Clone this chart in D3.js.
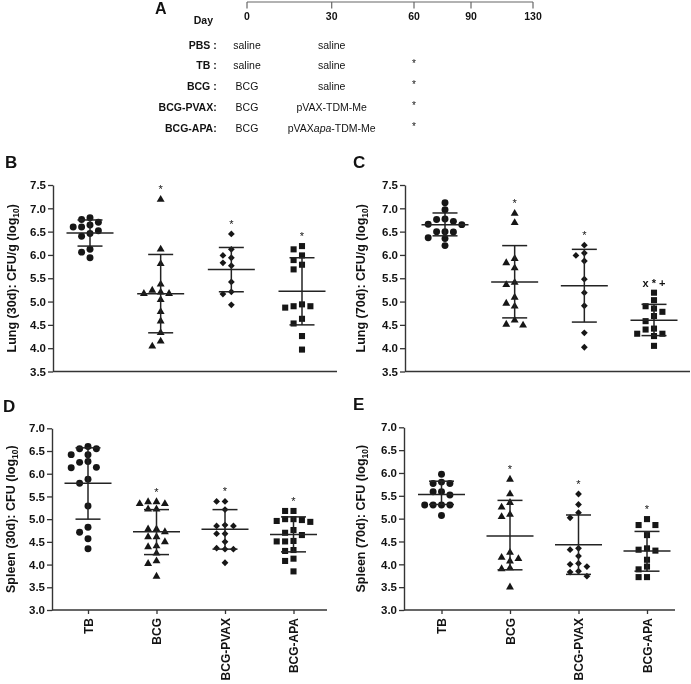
<!DOCTYPE html>
<html><head><meta charset="utf-8">
<script src="https://cdn.jsdelivr.net/npm/d3@7"></script>
<style>
body{margin:0;background:#fff}
svg{display:block}
text{font-family:Arial,"Liberation Sans",sans-serif;fill:#111}
.gray{opacity:0.995}
</style>
</head><body>
<svg id="c" width="691" height="684"></svg>
<script>
// ---------- DATA ----------
const groups = ["TB", "BCG", "BCG-PVAX", "BCG-APA"];

// Panel A (schedule)
const days = [0, 30, 60, 90, 130];
const schedGroups = ["PBS :", "TB :", "BCG :", "BCG-PVAX:", "BCG-APA:"];
const schedPrime = ["saline", "saline", "BCG", "BCG", "BCG"];
const schedBoost = ["saline", "saline", "saline", "pVAX-TDM-Me", "pVAXapa-TDM-Me"];
const schedChallenge = ["", "*", "*", "*", "*"];

// Panel B: Lung 30d
const lung30TB   = [6.70, 6.80, 6.76, 6.60, 6.60, 6.64, 6.52, 6.40, 6.46, 6.12, 6.06, 5.94];
const lung30BCG  = [7.19, 6.12, 5.81, 5.37, 5.17, 5.24, 5.17, 5.20, 5.04, 4.78, 4.58, 4.33, 4.04, 4.15];
const lung30PVAX = [6.45, 6.12, 5.99, 5.94, 5.83, 5.77, 5.42, 5.21, 5.16, 4.93];
const lung30APA  = [6.19, 6.12, 5.99, 5.89, 5.79, 5.69, 4.94, 4.90, 4.87, 4.90, 4.63, 4.53, 4.26, 3.97];
const lung30Mean  = [6.47, 5.17, 5.69, 5.22];
const lung30Upper = [6.75, 6.01, 6.16, 5.94];
const lung30Lower = [6.19, 4.33, 5.21, 4.50];
const lung30Marks = ["", "*", "*", "*"];

// Panel C: Lung 70d
const lung70TB   = [7.12, 6.97, 6.77, 6.76, 6.72, 6.65, 6.66, 6.50, 6.49, 6.50, 6.37, 6.35, 6.20];
const lung70BCG  = [6.89, 6.69, 5.92, 5.83, 5.72, 5.41, 5.36, 5.09, 4.96, 4.90, 4.60, 4.51, 4.49];
const lung70PVAX = [6.21, 6.04, 5.99, 5.87, 5.48, 5.19, 4.91, 4.33, 4.02];
const lung70APA  = [5.19, 5.03, 4.90, 4.85, 4.78, 4.69, 4.58, 4.42, 4.40, 4.31, 4.31, 4.26, 4.05];
const lung70Mean  = [6.65, 5.42, 5.34, 4.60];
const lung70Upper = [6.90, 6.20, 6.12, 4.94];
const lung70Lower = [6.41, 4.65, 4.56, 4.27];
const lung70Marks = ["", "*", "*", "x * +"];

// Panel D: Spleen 30d
const spleen30TB   = [6.60, 6.55, 6.55, 6.42, 6.42, 6.27, 6.25, 6.14, 6.13, 5.88, 5.79, 5.29, 4.82, 4.71, 4.57, 4.35];
const spleen30BCG  = [5.38, 5.34, 5.34, 5.38, 5.22, 5.22, 4.78, 4.78, 4.72, 4.61, 4.61, 4.50, 4.39, 4.41, 4.25, 4.08, 4.02, 3.74];
const spleen30PVAX = [5.39, 5.39, 5.21, 4.87, 4.85, 4.85, 4.68, 4.68, 4.50, 4.36, 4.34, 4.34, 4.04];
const spleen30APA  = [5.18, 5.18, 5.00, 5.00, 4.94, 4.96, 4.98, 4.76, 4.70, 4.65, 4.51, 4.51, 4.52, 4.32, 4.30, 4.13, 4.08, 3.85];
const spleen30Mean  = [5.79, 4.72, 4.78, 4.66];
const spleen30Upper = [6.57, 5.21, 5.21, 5.05];
const spleen30Lower = [5.00, 4.22, 4.34, 4.28];
const spleen30Marks = ["", "*", "*", "*"];

// Panel E: Spleen 70d
const spleen70TB   = [5.97, 5.80, 5.77, 5.77, 5.59, 5.59, 5.52, 5.30, 5.30, 5.30, 5.30, 5.07];
const spleen70BCG  = [5.86, 5.54, 5.35, 5.25, 5.09, 5.04, 4.26, 4.15, 4.12, 4.07, 3.92, 3.90, 3.50];
const spleen70PVAX = [5.54, 5.31, 5.13, 5.02, 4.35, 4.32, 4.18, 4.02, 4.00, 3.95, 3.85, 3.83, 3.74];
const spleen70APA  = [4.99, 4.86, 4.86, 4.64, 4.35, 4.32, 4.30, 4.10, 3.95, 3.89, 3.72, 3.72];
const spleen70Mean  = [5.53, 4.62, 4.43, 4.29];
const spleen70Upper = [5.82, 5.40, 5.08, 4.72];
const spleen70Lower = [5.31, 3.88, 3.78, 3.85];
const spleen70Marks = ["", "*", "*", "*"];

// ---------- DRAW ----------
const svg = d3.select("#c");
const root = svg.append("g").attr("class", "gray");
const INK = "#151515";
const AX = "#333";

// ----- Panel A -----
root.append("text").attr("x", 155).attr("y", 14).attr("font-size", 16).attr("font-weight", "bold").text("A");
const tx = d3.scaleLinear().domain(days).range([247, 331.7, 414, 471, 533]);
const tl = root.append("g");
tl.append("line").attr("x1", tx(0)).attr("x2", tx(130)).attr("y1", 2).attr("y2", 2)
  .attr("stroke", "#666").attr("stroke-width", 1.2);
tl.selectAll(".tk").data(days).join("line")
  .attr("x1", d => tx(d)).attr("x2", d => tx(d)).attr("y1", 2).attr("y2", 8.5)
  .attr("stroke", "#666").attr("stroke-width", 1.2);
tl.selectAll(".tl").data(days).join("text")
  .attr("x", d => tx(d)).attr("y", 20).attr("text-anchor", "middle")
  .attr("font-size", 10.5).attr("font-weight", "bold").text(d => d);
root.append("text").attr("x", 213).attr("y", 24).attr("text-anchor", "end")
  .attr("font-size", 10.5).attr("font-weight", "bold").text("Day");

const ry = d3.scalePoint().domain(schedGroups).range([45, 128]);
const rows = root.append("g");
rows.selectAll(".lab").data(schedGroups).join("text")
  .attr("x", 216.7).attr("y", d => ry(d)).attr("dy", "0.35em").attr("text-anchor", "end")
  .attr("font-size", 10.5).attr("font-weight", "bold").text(d => d);
rows.selectAll(".p").data(schedPrime).join("text")
  .attr("x", tx(0)).attr("y", (d, i) => ry(schedGroups[i])).attr("dy", "0.35em")
  .attr("text-anchor", "middle").attr("font-size", 10.5).text(d => d);
rows.selectAll(".b").data(schedBoost).join("text")
  .attr("x", tx(30)).attr("y", (d, i) => ry(schedGroups[i])).attr("dy", "0.35em")
  .attr("text-anchor", "middle").attr("font-size", 10.5)
  .each(function(d) {
    const t = d3.select(this);
    const k = d.indexOf("apa");
    if (k >= 0) {
      t.append("tspan").text(d.slice(0, k));
      t.append("tspan").attr("font-style", "italic").text("apa");
      t.append("tspan").text(d.slice(k + 3));
    } else t.text(d);
  });
rows.selectAll(".s").data(schedChallenge).join("text")
  .attr("x", tx(60)).attr("y", (d, i) => ry(schedGroups[i])).attr("dy", "0.15em")
  .attr("text-anchor", "middle").attr("font-size", 10).text(d => d);

// ----- scatter panels -----
const symbolFor = {
  "TB": d3.symbol(d3.symbolCircle, 38),
  "BCG": d3.symbol(d3.symbolTriangle, 27),
  "BCG-PVAX": d3.symbol(d3.symbolSquare, 23),
  "BCG-APA": d3.symbol(d3.symbolSquare, 37)
};

const panels = [
  { letter: "B", lx: 5, ly: 168, title: ["Lung (30d): CFU/g (log", "10", ")"], tx: 12,
    ax: 53, axEnd: 337, c: [90, 302], yr: [371.5, 185], dom: [3.5, 7.5], xLabels: false,
    sets: [lung30TB, lung30BCG, lung30PVAX, lung30APA],
    mean: lung30Mean, up: lung30Upper, lo: lung30Lower, marks: lung30Marks },
  { letter: "C", lx: 353, ly: 168, title: ["Lung (70d): CFU/g (log", "10", ")"], tx: 361,
    ax: 405, axEnd: 690, c: [445, 654], yr: [371.5, 185], dom: [3.5, 7.5], xLabels: false,
    sets: [lung70TB, lung70BCG, lung70PVAX, lung70APA],
    mean: lung70Mean, up: lung70Upper, lo: lung70Lower, marks: lung70Marks },
  { letter: "D", lx: 3, ly: 412, title: ["Spleen (30d): CFU (log", "10", ")"], tx: 11,
    ax: 52, axEnd: 327, c: [88, 293.5], yr: [610, 428.3], dom: [3, 7], xLabels: true,
    sets: [spleen30TB, spleen30BCG, spleen30PVAX, spleen30APA],
    mean: spleen30Mean, up: spleen30Upper, lo: spleen30Lower, marks: spleen30Marks },
  { letter: "E", lx: 353, ly: 410, title: ["Spleen (70d): CFU (log", "10", ")"], tx: 361,
    ax: 404, axEnd: 675, c: [441.5, 647], yr: [610, 427.3], dom: [3, 7], xLabels: true,
    sets: [spleen70TB, spleen70BCG, spleen70PVAX, spleen70APA],
    mean: spleen70Mean, up: spleen70Upper, lo: spleen70Lower, marks: spleen70Marks }
];

function swarm(vals, y) {
  // greedy column-scatter placement (Prism-like)
  const order = vals.map((v, i) => ({ v, i })).sort((a, b) => b.v - a.v);
  const placed = [];
  const slots = [0, -1, 1, -2, 2, -3, 3, -4, 4];
  const out = [];
  order.forEach(p => {
    const py = y(p.v);
    for (const s of slots) {
      if (!placed.some(q => q.s === s && Math.abs(q.y - py) < 6.6)) {
        placed.push({ s, y: py });
        out.push({ v: p.v, s });
        break;
      }
    }
  });
  return out;
}

panels.forEach(P => {
  const g = root.append("g");
  const y = d3.scaleLinear().domain(P.dom).range(P.yr);
  const x = d3.scalePoint().domain(groups).range(P.c);

  g.append("text").attr("x", P.lx).attr("y", P.ly).attr("font-size", 17)
    .attr("font-weight", "bold").text(P.letter);

  // y axis
  const ya = g.append("g").attr("transform", `translate(${P.ax},0)`)
    .call(d3.axisLeft(y).tickValues(d3.range(P.dom[0], P.dom[1] + 0.01, 0.5))
      .tickFormat(d3.format(".1f")).tickSize(5).tickSizeOuter(0).tickPadding(2));
  ya.select(".domain").attr("stroke", AX).attr("stroke-width", 1.4);
  ya.selectAll(".tick line").attr("stroke", AX).attr("stroke-width", 1.3);
  ya.selectAll(".tick text").attr("font-size", 11.5).attr("font-weight", "bold")
    .attr("font-family", "Arial, 'Liberation Sans', sans-serif").attr("fill", "#111");

  // x axis
  const yb = y(P.dom[0]);
  g.append("line").attr("x1", P.ax).attr("x2", P.axEnd).attr("y1", yb).attr("y2", yb)
    .attr("stroke", AX).attr("stroke-width", 1.4);
  if (P.xLabels) {
    const xa = g.append("g").attr("transform", `translate(0,${yb})`)
      .call(d3.axisBottom(x).tickSize(4).tickSizeOuter(0));
    xa.select(".domain").remove();
    xa.selectAll(".tick line").attr("stroke", AX).attr("stroke-width", 1.3);
    xa.selectAll(".tick text")
      .attr("transform", "rotate(-90)").attr("x", -8).attr("y", 0).attr("dy", "0.35em")
      .attr("text-anchor", "end").attr("font-size", 12).attr("font-weight", "bold")
      .attr("font-family", "Arial, 'Liberation Sans', sans-serif").attr("fill", "#111");
  }

  // y title
  const ym = (P.yr[0] + P.yr[1]) / 2;
  const t = g.append("text").attr("transform", `translate(${P.tx},${ym}) rotate(-90)`)
    .attr("text-anchor", "middle").attr("dy", "0.35em")
    .attr("font-size", 12.5).attr("font-weight", "bold");
  t.append("tspan").text(P.title[0]);
  t.append("tspan").attr("font-size", 8.5).attr("dy", 3).text(P.title[1]);
  t.append("tspan").attr("dy", -3).text(P.title[2]);

  // groups
  groups.forEach((grp, gi) => {
    const cx = x(grp);
    const pts = swarm(P.sets[gi], y);
    g.append("g").selectAll("path").data(pts).join("path")
      .attr("d", symbolFor[grp]())
      .attr("transform", d => `translate(${cx + d.s * 8.4},${y(d.v)})` + (grp === "BCG-PVAX" ? " rotate(45)" : ""))
      .attr("fill", INK);

    // mean and SD
    const eb = g.append("g").attr("stroke", "#222").attr("stroke-width", 1.5);
    eb.append("line").attr("x1", cx - 23.5).attr("x2", cx + 23.5)
      .attr("y1", y(P.mean[gi])).attr("y2", y(P.mean[gi]));
    eb.append("line").attr("x1", cx).attr("x2", cx)
      .attr("y1", y(P.up[gi])).attr("y2", y(P.lo[gi]));
    [P.up[gi], P.lo[gi]].forEach(v => {
      eb.append("line").attr("x1", cx - 12.5).attr("x2", cx + 12.5)
        .attr("y1", y(v)).attr("y2", y(v));
    });

    // significance marks
    if (P.marks[gi]) {
      const top = y(d3.max(P.sets[gi]));
      g.append("text").attr("x", cx).attr("y", top - 6)
        .attr("text-anchor", "middle").attr("font-size", 11)
        .attr("font-weight", P.marks[gi].length > 1 ? "bold" : "normal")
        .text(P.marks[gi]);
    }
  });
});
</script>
</body></html>
